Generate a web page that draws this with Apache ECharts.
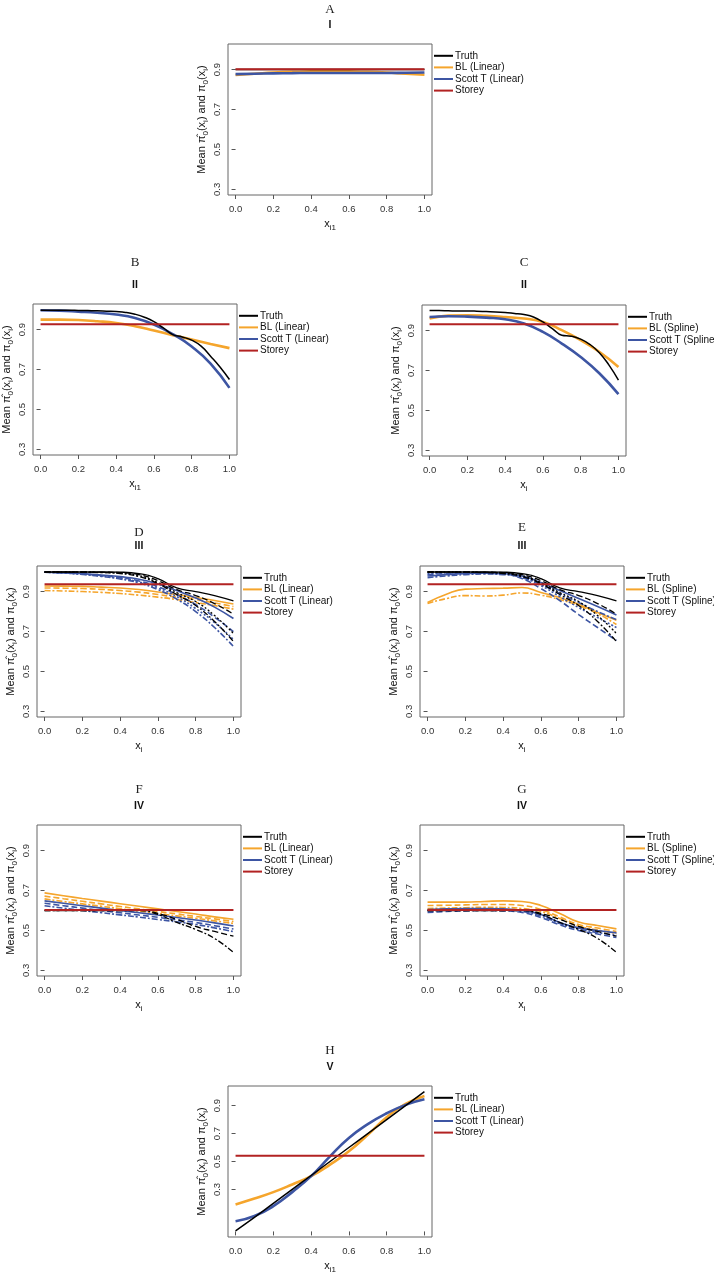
<!DOCTYPE html>
<html><head><meta charset="utf-8">
<script src="https://cdn.jsdelivr.net/npm/echarts@6/dist/echarts.min.js"></script>
<style>html,body{margin:0;padding:0;background:#fff}#c{width:714px;height:1274px}</style>
</head><body><div id="c"></div>
<script>
// ---------- data ----------
const xs11 = [0, 0.1, 0.2, 0.3, 0.4, 0.5, 0.6, 0.7, 0.8, 0.9, 1.0];
const xs21 = [0, 0.05, 0.1, 0.15, 0.2, 0.25, 0.3, 0.35, 0.4, 0.45, 0.5, 0.55, 0.6, 0.65, 0.7, 0.75, 0.8, 0.85, 0.9, 0.95, 1.0];
const xTickValues = [0, 0.2, 0.4, 0.6, 0.8, 1.0];
const yTickValues = [0.3, 0.5, 0.7, 0.9];
const panelLetters = ['A', 'B', 'C', 'D', 'E', 'F', 'G', 'H'];
const panelScenarios = ['I', 'II', 'II', 'III', 'III', 'IV', 'IV', 'V'];
const storeyLevels = [0.901, 0.927, 0.932, 0.937, 0.937, 0.603, 0.603, 0.542];

// Panel A
const A_truth = [0.9, 0.9, 0.9, 0.9, 0.9, 0.9, 0.9, 0.9, 0.9, 0.9, 0.9];
const A_bl = [0.873, 0.879, 0.885, 0.889, 0.891, 0.892, 0.891, 0.889, 0.885, 0.879, 0.874];
const A_scott = [0.877, 0.879, 0.881, 0.882, 0.883, 0.883, 0.883, 0.883, 0.883, 0.884, 0.885];
// Panel B (21 pts truth)
const B_truth = [0.997, 0.997, 0.997, 0.997, 0.996, 0.995, 0.994, 0.992, 0.99, 0.986, 0.977, 0.962, 0.94, 0.908, 0.875, 0.863, 0.847, 0.817, 0.767, 0.713, 0.65];
const B_bl = [0.95, 0.95, 0.948, 0.942, 0.933, 0.917, 0.895, 0.872, 0.85, 0.828, 0.807];
const B_scott = [0.997, 0.995, 0.99, 0.984, 0.975, 0.958, 0.925, 0.877, 0.815, 0.73, 0.608];
// Panel C
const C_truth = [1.0, 1.0, 0.999, 0.998, 0.998, 0.997, 0.995, 0.993, 0.99, 0.986, 0.98, 0.968, 0.943, 0.91, 0.877, 0.872, 0.857, 0.83, 0.788, 0.727, 0.652];
const C_bl = [0.96, 0.975, 0.977, 0.974, 0.968, 0.96, 0.943, 0.902, 0.852, 0.793, 0.718];
const C_scott = [0.968, 0.972, 0.97, 0.965, 0.957, 0.935, 0.893, 0.835, 0.768, 0.685, 0.582];
// Panels D / E truth (shared settings, several variants)
const DE_truth1 = [0.998, 0.998, 0.998, 0.998, 0.997, 0.99, 0.965, 0.918, 0.9, 0.88, 0.853];
const DE_truth2 = [0.998, 0.998, 0.998, 0.997, 0.995, 0.985, 0.955, 0.91, 0.88, 0.84, 0.787];
const DE_truth3 = [0.998, 0.998, 0.997, 0.996, 0.993, 0.98, 0.945, 0.895, 0.85, 0.78, 0.69];
const DE_truth4 = [0.998, 0.998, 0.997, 0.995, 0.99, 0.975, 0.94, 0.885, 0.83, 0.75, 0.65];
// Panel D
const D_bl1 = [0.928, 0.927, 0.926, 0.922, 0.918, 0.91, 0.898, 0.885, 0.87, 0.855, 0.838];
const D_bl2 = [0.918, 0.917, 0.915, 0.911, 0.905, 0.897, 0.885, 0.872, 0.86, 0.843, 0.825];
const D_bl3 = [0.905, 0.903, 0.9, 0.896, 0.89, 0.882, 0.872, 0.86, 0.845, 0.83, 0.812];
const D_scott1 = [0.997, 0.994, 0.99, 0.983, 0.975, 0.962, 0.938, 0.905, 0.868, 0.822, 0.765];
const D_scott2 = [0.997, 0.994, 0.988, 0.98, 0.97, 0.953, 0.925, 0.885, 0.835, 0.772, 0.70];
const D_scott3 = [0.997, 0.993, 0.986, 0.976, 0.963, 0.943, 0.91, 0.862, 0.8, 0.72, 0.625];
const D_scott4 = [0.997, 0.993, 0.987, 0.978, 0.966, 0.948, 0.918, 0.875, 0.815, 0.745, 0.66];
// Panel E
const E_bl1 = [0.845, 0.887, 0.912, 0.915, 0.917, 0.92, 0.895, 0.87, 0.837, 0.795, 0.757];
const E_bl2 = [0.84, 0.865, 0.88, 0.878, 0.882, 0.893, 0.882, 0.86, 0.83, 0.79, 0.735];
const E_scott1 = [0.978, 0.985, 0.99, 0.992, 0.99, 0.978, 0.945, 0.905, 0.865, 0.825, 0.783];
const E_scott2 = [0.985, 0.99, 0.992, 0.992, 0.988, 0.965, 0.915, 0.855, 0.785, 0.72, 0.655];
const E_scott3 = [0.97, 0.978, 0.985, 0.988, 0.985, 0.97, 0.935, 0.89, 0.845, 0.8, 0.76];
const E_scott4 = [0.99, 0.993, 0.995, 0.995, 0.99, 0.972, 0.93, 0.875, 0.82, 0.77, 0.72];
// Panels F / G truth
const FG_truth1 = [0.6, 0.6, 0.6, 0.6, 0.6, 0.602, 0.585, 0.555, 0.52, 0.495, 0.472];
const FG_truth2 = [0.6, 0.6, 0.6, 0.6, 0.6, 0.6, 0.58, 0.54, 0.505, 0.46, 0.39];
// Panel F
const F_bl1 = [0.688, 0.674, 0.66, 0.647, 0.634, 0.621, 0.608, 0.595, 0.582, 0.568, 0.556];
const F_bl2 = [0.672, 0.659, 0.646, 0.633, 0.62, 0.608, 0.595, 0.583, 0.57, 0.558, 0.545];
const F_bl3 = [0.658, 0.645, 0.633, 0.621, 0.609, 0.597, 0.585, 0.573, 0.561, 0.548, 0.535];
const F_scott1 = [0.648, 0.636, 0.624, 0.612, 0.6, 0.589, 0.577, 0.565, 0.552, 0.538, 0.522];
const F_scott2 = [0.636, 0.624, 0.612, 0.6, 0.589, 0.577, 0.566, 0.553, 0.54, 0.524, 0.507];
const F_scott3 = [0.624, 0.612, 0.6, 0.589, 0.578, 0.567, 0.555, 0.543, 0.53, 0.513, 0.494];
// Panel G
const G_bl1 = [0.642, 0.642, 0.642, 0.645, 0.648, 0.645, 0.625, 0.585, 0.542, 0.525, 0.508];
const G_bl2 = [0.625, 0.626, 0.628, 0.63, 0.63, 0.625, 0.605, 0.568, 0.53, 0.512, 0.495];
const G_bl3 = [0.61, 0.612, 0.614, 0.616, 0.615, 0.61, 0.595, 0.56, 0.522, 0.502, 0.485];
const G_scott1 = [0.605, 0.608, 0.61, 0.61, 0.608, 0.6, 0.58, 0.54, 0.513, 0.5, 0.488];
const G_scott2 = [0.59, 0.595, 0.598, 0.6, 0.598, 0.59, 0.565, 0.528, 0.5, 0.482, 0.465];
const G_scott3 = [0.598, 0.602, 0.604, 0.605, 0.603, 0.595, 0.572, 0.535, 0.507, 0.49, 0.475];
// Panel H
const H_truth = [0.004, 0.1, 0.2, 0.3, 0.4, 0.5, 0.6, 0.7, 0.8, 0.9, 1.0];
const H_bl = [0.193, 0.235, 0.281, 0.336, 0.395, 0.478, 0.573, 0.691, 0.817, 0.912, 0.969];
const H_scott = [0.072, 0.11, 0.181, 0.281, 0.395, 0.537, 0.668, 0.767, 0.845, 0.905, 0.945];

// ---------- styling / layout ----------
const FONT = '"Liberation Sans", Arial, sans-serif';
const COL = {T: '#000000', B: '#F5A52C', S: '#3D55A3', R: '#B22222'};
const DASH = ['solid', [6, 3], [2, 2], [6, 2, 2, 2]];
const BW = 204, BH = 151;

function names(kind) {
  return {T: 'Truth', B: 'BL (' + kind + ')', S: 'Scott T (' + kind + ')', R: 'Storey'};
}

const panels = [
  {box: [228, 44], yr: [0.272, 1.028], xname: 'x{s|i1}', kind: 'Linear', lt: 34, rt: 19, lw: 2.6,
   lines: [['B', A_bl, 0, xs11], ['S', A_scott, 0, xs11], ['T', A_truth, 0, xs11]]},
  {box: [33, 304], yr: [0.272, 1.028], xname: 'x{s|i1}', kind: 'Linear', lt: 41, rt: 19, lw: 2.6,
   lines: [['B', B_bl, 0, xs11], ['S', B_scott, 0, xs11], ['T', B_truth, 0, xs21]]},
  {box: [422, 305], yr: [0.272, 1.028], xname: 'x{s|i}', kind: 'Spline', lt: 42, rt: 20, lw: 2.6,
   lines: [['B', C_bl, 0, xs11], ['S', C_scott, 0, xs11], ['T', C_truth, 0, xs21]]},
  {box: [37, 566], yr: [0.272, 1.028], xname: 'x{s|i}', kind: 'Linear', lt: 33, rt: 20, lw: 1.6,
   lines: [['B', D_bl1, 0, xs11], ['B', D_bl2, 1, xs11], ['B', D_bl3, 3, xs11],
           ['S', D_scott1, 0, xs11], ['S', D_scott2, 1, xs11], ['S', D_scott3, 3, xs11], ['S', D_scott4, 2, xs11],
           ['T', DE_truth1, 0, xs11], ['T', DE_truth2, 1, xs11], ['T', DE_truth3, 2, xs11], ['T', DE_truth4, 3, xs11]]},
  {box: [420, 566], yr: [0.272, 1.028], xname: 'x{s|i}', kind: 'Spline', lt: 38, rt: 20, lw: 1.6,
   lines: [['B', E_bl1, 0, xs11], ['B', E_bl2, 3, xs11],
           ['S', E_scott1, 0, xs11], ['S', E_scott2, 1, xs11], ['S', E_scott3, 3, xs11], ['S', E_scott4, 2, xs11],
           ['T', DE_truth1, 0, xs11], ['T', DE_truth2, 1, xs11], ['T', DE_truth3, 2, xs11], ['T', DE_truth4, 3, xs11]]},
  {box: [37, 825], yr: [0.272, 1.028], xname: 'x{s|i}', kind: 'Linear', lt: 35, rt: 19, lw: 1.6,
   lines: [['B', F_bl1, 0, xs11], ['B', F_bl2, 1, xs11], ['B', F_bl3, 3, xs11],
           ['S', F_scott1, 0, xs11], ['S', F_scott2, 1, xs11], ['S', F_scott3, 3, xs11],
           ['T', FG_truth1, 1, xs11], ['T', FG_truth2, 3, xs11]]},
  {box: [420, 825], yr: [0.272, 1.028], xname: 'x{s|i}', kind: 'Spline', lt: 35, rt: 19, lw: 1.6,
   lines: [['B', G_bl1, 0, xs11], ['B', G_bl2, 1, xs11], ['B', G_bl3, 3, xs11],
           ['S', G_scott1, 0, xs11], ['S', G_scott2, 1, xs11], ['S', G_scott3, 3, xs11],
           ['T', FG_truth1, 1, xs11], ['T', FG_truth2, 3, xs11]]},
  {box: [228, 1086], yr: [-0.04, 1.04], xname: 'x{s|i1}', kind: 'Linear', lt: 35, rt: 19, lw: 2.6,
   lines: [['B', H_bl, 0, xs11], ['S', H_scott, 0, xs11], ['T', H_truth, 0, xs11]]}
];

const option = {
  animation: false, backgroundColor: '#ffffff',
  grid: [], xAxis: [], yAxis: [], series: [], legend: [], graphic: []
};

const subRich = {s: {fontSize: 8, lineHeight: 10, verticalAlign: 'bottom', fontFamily: FONT, color: '#111'}};

panels.forEach((p, i) => {
  const [bx, by] = p.box;
  const nm = names(p.kind);
  option.grid.push({left: bx, top: by, width: BW, height: BH, show: true, borderColor: '#666', borderWidth: 1,
                    backgroundColor: 'transparent', containLabel: false, outerBoundsMode: 'none'});
  option.xAxis.push({
    type: 'value', gridIndex: i, min: -0.04, max: 1.04,
    axisLine: {show: false}, splitLine: {show: false},
    axisTick: {show: true, inside: false, length: 4, lineStyle: {color: '#555'}, customValues: xTickValues},
    axisLabel: {show: true, margin: 9, fontSize: 9.5, color: '#333', fontFamily: FONT,
                customValues: xTickValues, formatter: v => v.toFixed(1)},
    name: p.xname, nameLocation: 'middle', nameGap: 21,
    nameTextStyle: {fontSize: 11, lineHeight: 16, color: '#111', fontFamily: FONT, rich: subRich}
  });
  option.yAxis.push({
    type: 'value', gridIndex: i, min: p.yr[0], max: p.yr[1],
    axisLine: {show: false}, splitLine: {show: false},
    axisTick: {show: true, inside: false, length: 4, lineStyle: {color: '#555'}, customValues: yTickValues},
    axisLabel: {show: true, margin: 6, rotate: 90, fontSize: 9.5, color: '#333', fontFamily: FONT,
                customValues: yTickValues, formatter: v => v.toFixed(1)},
    name: 'Mean \u03C0\u0302{s|0}(x{s|i}) and \u03C0{s|0}(x{s|i})', nameLocation: 'middle', nameGap: 18, nameRotate: 90,
    nameTextStyle: {fontSize: 11, lineHeight: 16, color: '#111', fontFamily: FONT, rich: subRich}
  });
  p.lines.forEach(([m, ys, d, xs]) => {
    option.series.push({
      type: 'line', name: nm[m], xAxisIndex: i, yAxisIndex: i, symbol: 'none', silent: true,
      smooth: 0.5,
      data: xs.map((x, k) => [x, ys[k]]),
      itemStyle: {color: COL[m]},
      lineStyle: {color: COL[m], width: m === 'T' ? (p.lw > 2 ? 1.5 : 1.3) : p.lw, type: DASH[d]},
      z: m === 'T' ? 3 : 2
    });
  });
  option.series.push({
    type: 'line', name: nm.R, xAxisIndex: i, yAxisIndex: i, symbol: 'none', silent: true,
    data: [[0, storeyLevels[i]], [1, storeyLevels[i]]],
    itemStyle: {color: COL.R}, lineStyle: {color: COL.R, width: 2}, z: 4
  });
  option.legend.push({
    orient: 'vertical', left: bx + BW + 2, top: by + 6, padding: 0,
    itemWidth: 19, itemHeight: 2, itemGap: 0, icon: 'rect', selectedMode: false,
    data: [nm.T, nm.B, nm.S, nm.R],
    textStyle: {fontSize: 10, lineHeight: 11.6, color: '#111', fontFamily: FONT, padding: [0, 0, 0, -3]}
  });
  option.graphic.push({
    type: 'text', x: bx + BW / 2, y: by - p.lt, silent: true,
    style: {text: panelLetters[i], fontSize: 13, fontFamily: '"Liberation Serif", "DejaVu Serif", serif',
            fill: '#222', align: 'center', verticalAlign: 'middle'}
  });
  option.graphic.push({
    type: 'text', x: bx + BW / 2, y: by - p.rt, silent: true,
    style: {text: panelScenarios[i], fontSize: 10.5, fontWeight: 'bold', fontFamily: FONT,
            fill: '#111', align: 'center', verticalAlign: 'middle'}
  });
});

const chart = echarts.init(document.getElementById('c'), null, {renderer: 'canvas'});
chart.setOption(option);
</script>
</body></html>
